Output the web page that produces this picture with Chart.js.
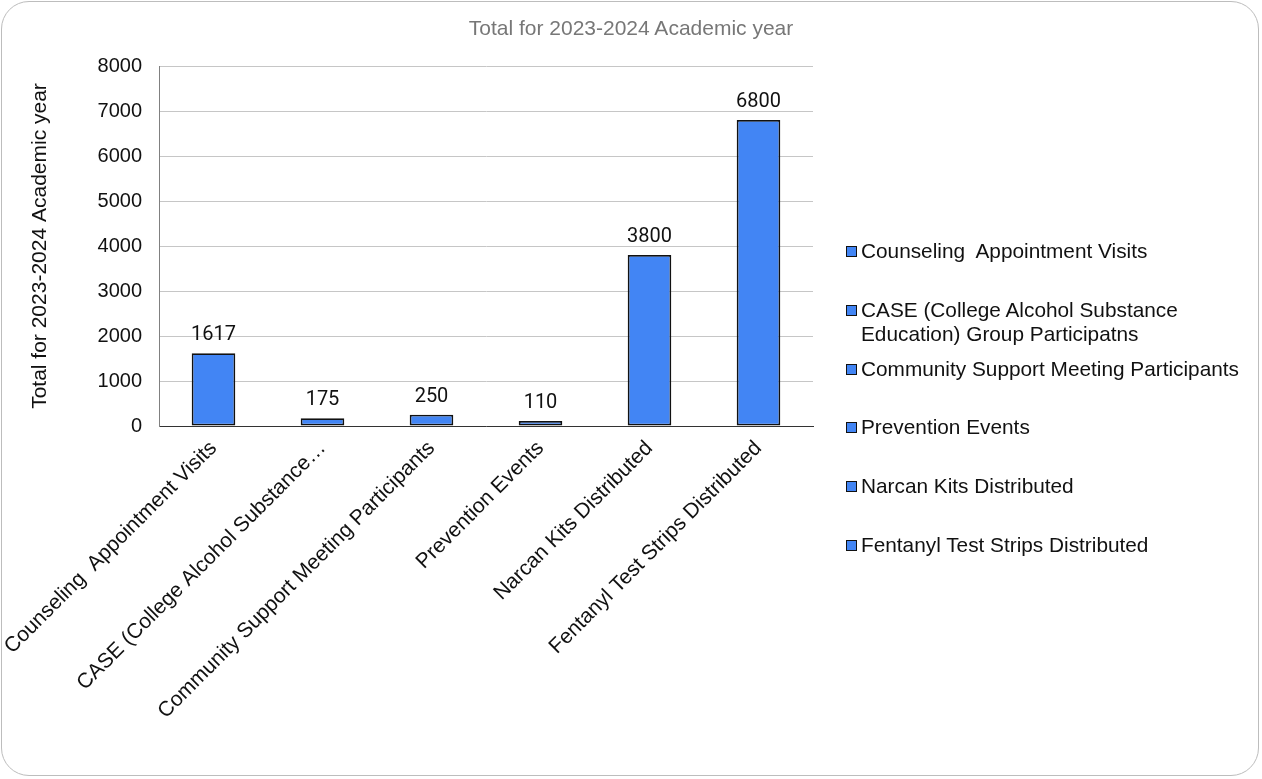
<!DOCTYPE html>
<html>
<head>
<meta charset="utf-8">
<script src="https://cdn.jsdelivr.net/npm/chart.js@4.4.1/dist/chart.umd.min.js"></script>
<style>
  html, body { margin: 0; padding: 0; background: #fff; }
  body { width: 1262px; height: 779px; position: relative; overflow: hidden; font-family: "Liberation Sans", Arial, sans-serif; }
  #frame { position: absolute; left: 1px; top: 1px; width: 1258px; height: 775px; border: 1px solid #bdbdbd; border-radius: 28px; box-sizing: border-box; }
  #chart { position: absolute; left: 0; top: 0; }
  #title { position: absolute; left: 0; width: 1262px; top: 16px; text-align: center; font-size: 21px; color: #777; }
  #legend { position: absolute; left: 846px; top: 0; }
  .lg-item { position: absolute; left: 0; width: 410px; display: flex; align-items: flex-start; font-size: 20.8px; line-height: 24px; color: #111; }
  .lg-box { width: 11px; height: 11px; box-sizing: border-box; border: 1.5px solid #111; margin-top: 7px; margin-right: 4px; flex: none; }
  .lg-text { width: 390px; white-space: pre-wrap; }
</style>
</head>
<body>
<div id="frame"></div>
<canvas id="chart" width="1262" height="779"></canvas>
<div id="title"></div>
<div id="legend"></div>
<script>
const chartTitle = 'Total for 2023-2024 Academic year';
const categories = [
  'Counseling  Appointment Visits',
  'CASE (College Alcohol Substance Education) Group Participatns',
  'Community Support Meeting Participants',
  'Prevention Events',
  'Narcan Kits Distributed',
  'Fentanyl Test Strips Distributed'
];
const tickLabels = [
  'Counseling  Appointment Visits',
  'CASE (College Alcohol Substance…',
  'Community Support Meeting Participants',
  'Prevention Events',
  'Narcan Kits Distributed',
  'Fentanyl Test Strips Distributed'
];
const totals = [1617, 175, 250, 110, 3800, 6800];
const BAR = '#4285F4';
const FONT = '"Liberation Sans", Arial, sans-serif';

document.getElementById('title').textContent = chartTitle;

/* legend: one slot per category, long names wrap inside their slot */
const legendEl = document.getElementById('legend');
categories.forEach((c, i) => {
  const row = document.createElement('div');
  row.className = 'lg-item';
  row.style.top = (239 + i * 58.8) + 'px';
  row.innerHTML = '<span class="lg-box" style="background:' + BAR + '"></span><span class="lg-text"></span>';
  row.querySelector('.lg-text').textContent = c;
  legendEl.appendChild(row);
});

const valueLabels = {
  id: 'valueLabels',
  afterDatasetsDraw(chart) {
    const ctx = chart.ctx;
    const meta = chart.getDatasetMeta(0);
    ctx.save();
    ctx.font = '20px Roboto, "Liberation Sans", sans-serif';
    ctx.fillStyle = '#111';
    ctx.textAlign = 'center';
    ctx.textBaseline = 'alphabetic';
    meta.data.forEach((bar, i) => ctx.fillText(totals[i], bar.x, bar.y - 13));
    ctx.restore();
  }
};

new Chart(document.getElementById('chart'), {
  type: 'bar',
  data: {
    labels: tickLabels,
    datasets: [{
      label: chartTitle,
      data: totals,
      backgroundColor: BAR,
      borderColor: '#111',
      borderWidth: 1.8,
      borderSkipped: false,
      barPercentage: 0.8,
      categoryPercentage: 0.5
    }]
  },
  options: {
    responsive: false,
    animation: false,
    devicePixelRatio: 1,
    layout: { padding: { top: 66, right: 449, bottom: 0, left: 0 } },
    plugins: { legend: { display: false }, title: { display: false }, tooltip: { enabled: false } },
    scales: {
      x: {
        // rotated labels may run past the left edge, like the original
        afterFit: s => { s.height = 353; s.paddingLeft = 0; s.paddingRight = 0; },
        grid: { display: false, drawTicks: false },
        border: { color: '#333', width: 1 },
        ticks: { autoSkip: false, maxRotation: 45, minRotation: 45, padding: 10, color: '#111', font: { family: FONT, size: 21 } }
      },
      y: {
        min: 0, max: 8000,
        afterFit: s => { s.width = 159; },
        grid: { color: '#c6c6c6', drawTicks: false },
        border: { color: '#808080', width: 1 },
        ticks: { stepSize: 1000, padding: 17, color: '#111', font: { family: FONT, size: 20 }, callback: v => String(v) },
        title: { display: true, text: chartTitle, color: '#111', padding: { top: 28, bottom: 0 }, font: { family: FONT, size: 21 } }
      }
    }
  },
  plugins: [valueLabels]
});
</script>
</body>
</html>
